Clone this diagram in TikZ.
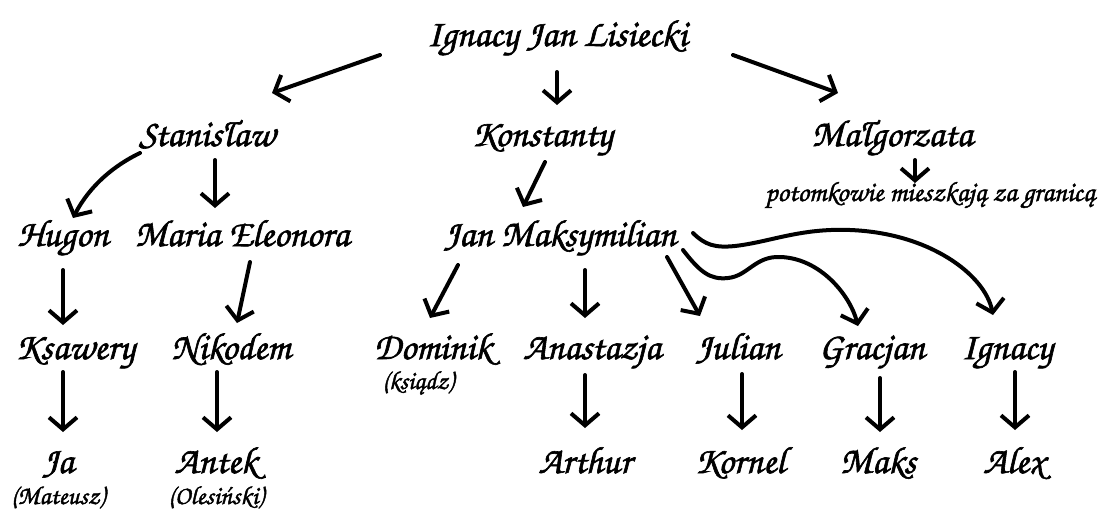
\documentclass[tikz,border=0pt]{standalone}
\usepackage{fontspec}
\setmainfont{TeX Gyre Chorus}[AutoFakeBold=1.6]
\usetikzlibrary{arrows.meta,calc}
\begin{document}
\begin{tikzpicture}[x=1pt,y=-1pt,
  nm/.style={inner sep=0pt, anchor=base, font=\fontsize{38}{40}\selectfont\bfseries},
  sm/.style={inner sep=0pt, anchor=base, font=\fontsize{26}{28}\selectfont\bfseries},
  arr/.style={line width=4pt, -{Straight Barb[length=12pt,width=28pt]}, line cap=round, line join=round}]
\useasboundingbox (0,0) rectangle (1098,515);
% nodes
\node[nm] (top) at (557,46) {Ignacy Jan Lisiecki};
\node[nm] (stan) at (207,146) {Stanisław};
\node[nm] (kon) at (542,146) {Konstanty};
\node[nm] (mal) at (892,146) {Małgorzata};
\node[sm, font=\fontsize{28}{30}\selectfont\bfseries] (pot) at (930,201) {potomkowie mieszkają za granicą};
\node[nm] (hug) at (63,246) {Hugon};
\node[nm] (mar) at (242,246) {Maria Eleonora};
\node[nm] (jm) at (560,246) {Jan Maksymilian};
\node[nm] (ksa) at (75,359) {Ksawery};
\node[nm] (nik) at (231,359) {Nikodem};
\node[nm] (dom) at (433,359) {Dominik};
\node[sm] (ksi) at (418,389) {(ksiądz)};
\node[nm] (ana) at (592,359) {Anastazja};
\node[nm] (jul) at (738,359) {Julian};
\node[nm] (gra) at (872,359) {Gracjan};
\node[nm] (ign) at (1007,359) {Ignacy};
\node[nm] (ja) at (58,473) {Ja};
\node[sm] (mat) at (58,504) {(Mateusz)};
\node[nm] (ant) at (216,473) {Antek};
\node[sm] (ole) at (216,504) {(Olesiński)};
\node[nm] (art) at (585,473) {Arthur};
\node[nm] (kor) at (740,473) {Kornel};
\node[nm] (mak) at (878,473) {Maks};
\node[nm] (ale) at (1014,473) {Alex};
% connectors
\draw[arr] ($(top.base)+(-177,9)$) -- ($(stan.base)+(65,-53)$);
\draw[arr] ($(top.base)+(0,26)$) -- ($(kon.base)+(15,-41)$);
\draw[arr] ($(top.base)+(176,9)$) -- ($(mal.base)+(-54,-53)$);
\draw[arr] ($(mal.base)+(23,14)$) -- ($(pot.base)+(-15,-18)$);
\draw[arr] ($(stan.base)+(-67,7)$) .. controls (115,165) and (90,185) .. ($(hug.base)+(10,-28)$);
\draw[arr] ($(stan.base)+(8,14)$) -- ($(mar.base)+(-27,-38)$);
\draw[arr] ($(kon.base)+(3,16)$) -- ($(jm.base)+(-37,-39)$);
\draw[arr] ($(hug.base)+(0,24)$) -- ($(ksa.base)+(-12,-34)$);
\draw[arr] ($(mar.base)+(8,16)$) -- ($(nik.base)+(6,-36)$);
\draw[arr] ($(jm.base)+(-102,19)$) -- ($(dom.base)+(-3,-41)$);
\draw[arr] ($(jm.base)+(25,24)$) -- ($(ana.base)+(-7,-41)$);
\draw[arr] ($(jm.base)+(107,11)$) -- ($(jul.base)+(-38,-43)$);
\draw[arr] ($(jm.base)+(123,4)$) .. controls (700,272) and (710,280) .. (728,278)
  .. controls (748,276) and (755,256) .. (780,257)
  .. controls (820,258) and (850,295) .. ($(gra.base)+(-14,-33)$);
\draw[arr] ($(jm.base)+(133,-13)$) .. controls (705,245) and (715,248) .. (735,246)
  .. controls (770,242) and (800,228) .. (850,230)
  .. controls (930,233) and (985,275) .. ($(ign.base)+(-14,-44)$);
\draw[arr] ($(ksa.base)+(-12,13)$) -- ($(ja.base)+(5,-41)$);
\draw[arr] ($(nik.base)+(-14,13)$) -- ($(ant.base)+(1,-41)$);
\draw[arr] ($(ana.base)+(-7,16)$) -- ($(art.base)+(0,-45)$);
\draw[arr] ($(jul.base)+(4,15)$) -- ($(kor.base)+(2,-43)$);
\draw[arr] ($(gra.base)+(8,19)$) -- ($(mak.base)+(2,-41)$);
\draw[arr] ($(ign.base)+(8,13)$) -- ($(ale.base)+(1,-43)$);
\end{tikzpicture}
\end{document}
